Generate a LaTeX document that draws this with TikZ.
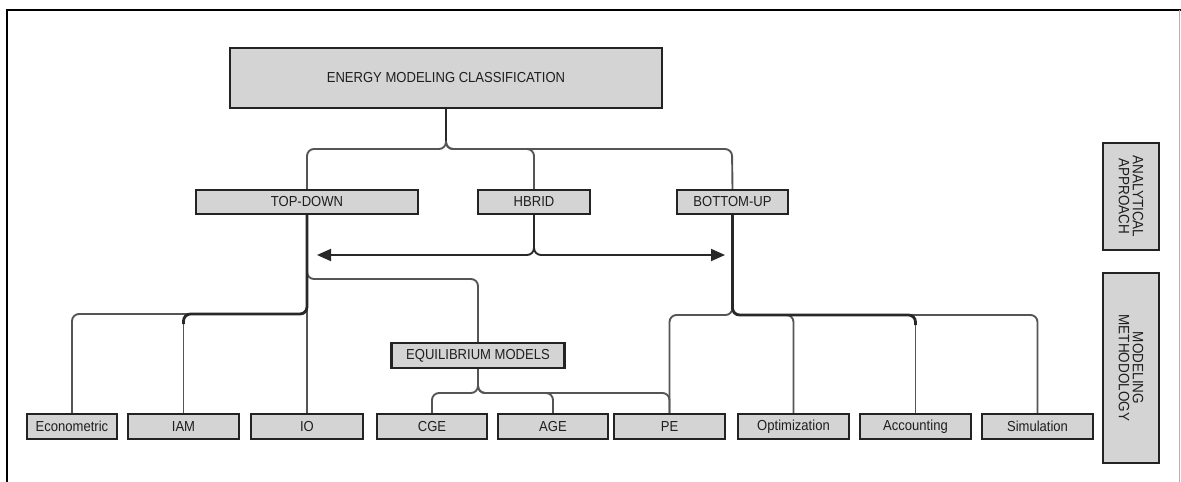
\documentclass[tikz,border=0pt]{standalone}
\usepackage{fontspec}
\setmainfont{Liberation Sans}[FakeStretch=0.9]
\usetikzlibrary{arrows.meta}
\definecolor{boxfill}{RGB}{212,212,212}
\definecolor{boxline}{RGB}{35,35,35}
\definecolor{connline}{RGB}{85,85,85}
\definecolor{thickline}{RGB}{40,40,40}
\definecolor{txt}{RGB}{30,30,30}
\begin{document}
\begin{tikzpicture}[x=1pt,y=-1pt,
  box/.style={draw=boxline, line width=2.3pt, fill=boxfill, inner sep=0pt,
    text=txt, font=\fontsize{14.5}{16}\selectfont, minimum height=25pt},
  sidebox/.style={box, rotate=-90, align=center, font=\fontsize{15}{14}\selectfont, minimum height=56pt},
  conn/.style={draw=connline, line width=1.9pt, rounded corners=7pt},
  thk/.style={draw=thickline, line width=2.8pt, rounded corners=7pt},
  arr/.style={conn, -{Triangle[length=14pt,width=12pt]}, draw=thickline}
]
\useasboundingbox (0,0) rectangle (1181,482);
% frame
\draw[line width=2pt, black] (7,482) -- (7,10) -- (1181,10);
\draw[line width=0.8pt, black!30] (1179,10) -- (1179,482);

% nodes
\node[box, minimum width=432pt, minimum height=60pt] (main) at (446,78) {ENERGY MODELING CLASSIFICATION};
\node[box, minimum width=222pt, minimum height=24pt] (td) at (307,202) {TOP-DOWN};
\node[box, minimum width=112pt, minimum height=24pt] (hb) at (534,202) {HBRID};
\node[box, minimum width=111pt, minimum height=24pt] (bu) at (732.5,202) {BOTTOM-UP};
\node[box, minimum width=173pt] (eq) at (478,355.5) {EQUILIBRIUM MODELS};

\node[box, minimum width=90pt]  (econ) at (72,426.5) {Econometric};
\node[box, minimum width=111pt] (iam)  at (183.5,426.5) {IAM};
\node[box, minimum width=112pt] (io)   at (307,426.5) {IO};
\node[box, minimum width=110pt] (cge)  at (432,426.5) {CGE};
\node[box, minimum width=110pt] (age)  at (553,426.5) {AGE};
\node[box, minimum width=111pt] (pe)   at (669.5,426.5) {PE};
\node[box, minimum width=111pt] (opt)  at (793.5,426.5) {Optimization};
\node[box, minimum width=111pt] (acc)  at (915.5,426.5) {Accounting};
\node[box, minimum width=111pt] (sim)  at (1037.5,426.5) {Simulation};

\node[sidebox, minimum width=107pt] (aa) at (1131,196.5) {ANALYTICAL\\APPROACH};
\node[sidebox, minimum width=190pt] (mm) at (1131,368) {MODELING\\METHODOLOGY};

% coordinates
\coordinate (al) at (317,255);
\coordinate (ar) at (725,255);
\coordinate (tdk) at (183.5,324);
\coordinate (buk) at (915.5,325);

% top level connectors
\draw[conn] (main.south) |- (307,149) -- (td.north);
\draw[conn] (main.south) |- (732,149) -- (bu.north);
\draw[conn] (main.south) |- (534,149) -- (hb.north);
\draw[thk, rounded corners=0pt] (main.south) -- (446,141);

% hybrid arrows
\draw[arr] (hb.south) |- (al);
\draw[arr] (hb.south) |- (ar);

% top-down branch
\draw[conn] (td.south) |- (72,314) -- (econ.north);
\draw[conn] (td.south) -- (io.north);
\draw[conn] (td.south) |- (478,279) -- (eq.north);
\draw[thk] (td.south) |- (183.5,314) -- (tdk);
\draw[conn] (tdk) -- (iam.north);

% equilibrium branch
\draw[conn] (eq.south) |- (432,393) -- (cge.north);
\draw[conn] (eq.south) |- (553,393) -- (age.north);
\draw[conn] (eq.south) |- (669.5,393) -- (pe.north);

% bottom-up branch
\draw[conn] (bu.south) |- (669.5,315) -- (pe.north);
\draw[conn] (bu.south) |- (793.5,315) -- (opt.north);
\draw[conn] (bu.south) |- (1037.5,315) -- (sim.north);
\draw[thk] (bu.south) |- (915.5,315) -- (buk);
\draw[conn] (buk) -- (acc.north);
\end{tikzpicture}
\end{document}
